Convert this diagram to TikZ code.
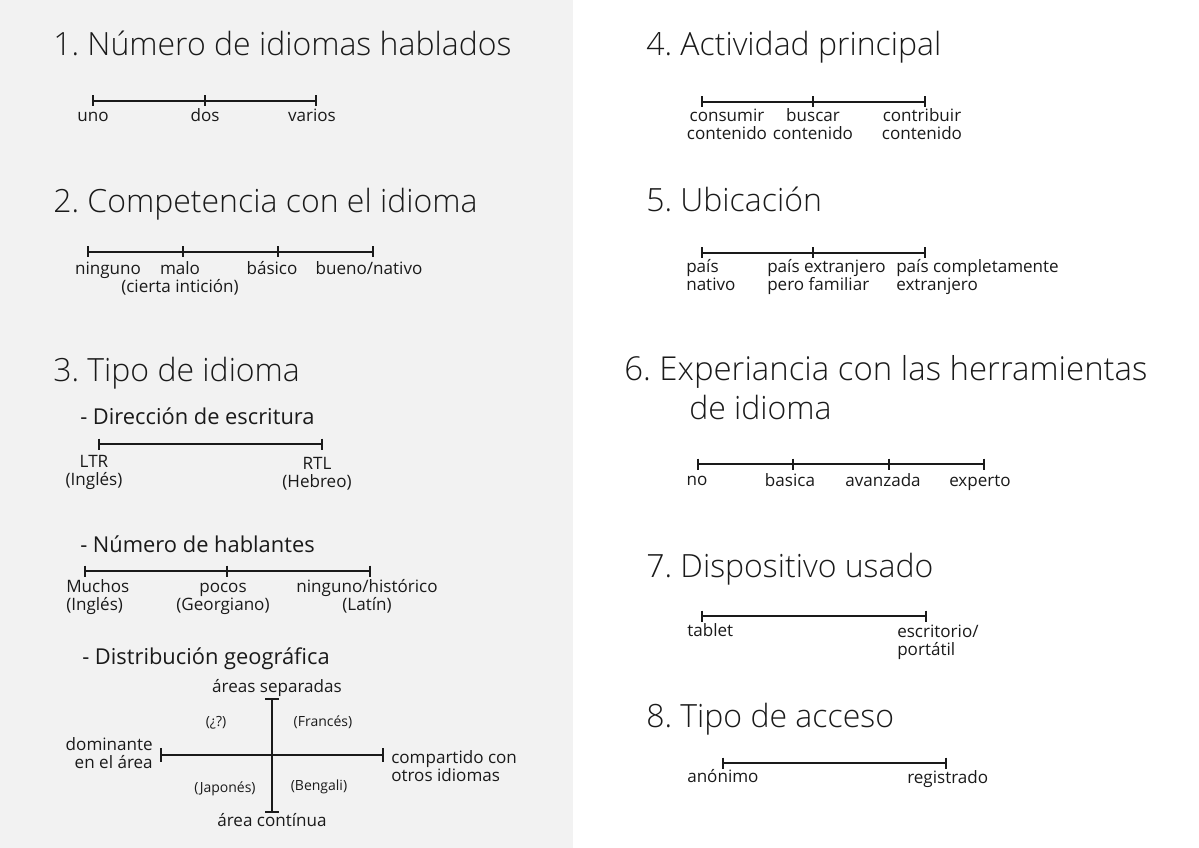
\documentclass[tikz,border=0pt]{standalone}
\usepackage{fontspec}
\setmainfont{Open Sans}
\IfFontExistsTF{Open Sans Light}{\newfontfamily\headfont{Open Sans Light}}{\newfontfamily\headfont{Open Sans}}
\frenchspacing
\definecolor{panel}{HTML}{F2F2F2}
\definecolor{ink}{HTML}{1A1A1A}
\tikzset{
  head/.style={anchor=base west, inner sep=0pt, text=ink, font=\headfont\fontsize{24}{34}\selectfont},
  subhead/.style={anchor=base west, inner sep=0pt, text=ink, font=\fontsize{16.4}{20}\selectfont},
  lbl/.style={anchor=base, inner sep=0pt, text=ink, align=center, font=\fontsize{12.8}{13.5}\selectfont},
  lbll/.style={lbl, anchor=base west, align=left},
  note/.style={lbl, font=\fontsize{10.5}{12}\selectfont},
  axis/.style={draw=ink, line width=1.1pt},
}
\begin{document}
\begin{tikzpicture}[x=0.75pt,y=-0.75pt]
        \useasboundingbox (0,0) rectangle (1199,848);
        \fill[white] (0,0) rectangle (1199,848);
        \fill[panel] (0,0) rectangle (573,848);
        % 1
        \node[head] (h1) at (53,56) {1. Número de idiomas hablados};
        \coordinate (a1) at (93,101); \coordinate (b1) at (205,101); \coordinate (c1) at (316,101);
        \draw[axis] (a1) -- (c1);
        \foreach \p in {a1,b1,c1} \draw[axis] (\p) ++(0,-5.5) -- ++(0,11);
        \node[lbl] (uno) at (93,122) {uno};
        \node[lbl] (dos) at (205,122) {dos};
        \node[lbl] (varios) at (312,122) {varios};
        % 2
        \node[head] (h2) at (53,213) {2. Competencia con el idioma};
        \coordinate (a2) at (88,252); \coordinate (b2) at (183,252); \coordinate (c2) at (278,252); \coordinate (d2) at (373,252);
        \draw[axis] (a2) -- (d2);
        \foreach \p in {a2,b2,c2,d2} \draw[axis] (\p) ++(0,-5.5) -- ++(0,11);
        \node[lbl] (ninguno) at (108,275) {ninguno};
        \node[lbl] (malo) at (180,293) {malo\\(cierta intición)};
        \node[lbl] (basico) at (272,275) {básico};
        \node[lbl] (bueno) at (369,275) {bueno/nativo};
        % 3
        \node[head] (h3) at (53,382) {3. Tipo de idioma};
        \node[subhead] (s3a) at (80,425) {- Dirección de escritura};
        \coordinate (a3) at (99,444); \coordinate (b3) at (322,444);
        \draw[axis] (a3) -- (b3);
        \foreach \p in {a3,b3} \draw[axis] (\p) ++(0,-5.5) -- ++(0,11);
        \node[lbl] (ltr) at (94,485) {LTR\\(Inglés)};
        \node[lbl] (rtl) at (317,487) {RTL\\(Hebreo)};
        \node[subhead] (s3b) at (80,552) {- Número de hablantes};
        \coordinate (a4) at (85,571); \coordinate (b4) at (227,571); \coordinate (c4) at (370,571);
        \draw[axis] (a4) -- (c4);
        \foreach \p in {a4,b4,c4} \draw[axis] (\p) ++(0,-5.5) -- ++(0,11);
        \node[lbll] (muchos) at (66,610) {Muchos\\(Inglés)};
        \node[lbl] (pocos) at (223,610) {pocos\\(Georgiano)};
        \node[lbl] (historico) at (367,610) {ninguno/histórico\\(Latín)};
        \node[subhead] (s3c) at (82,664) {- Distribución geográfica};
        \coordinate (top) at (272,699); \coordinate (bot) at (272,812);
        \coordinate (lft) at (161,755); \coordinate (rgt) at (383,755);
        \draw[axis] (top) -- (bot);
        \draw[axis] (lft) -- (rgt);
        \foreach \p in {top,bot} \draw[axis] (\p) ++(-7,0) -- ++(14,0);
        \foreach \p in {lft,rgt} \draw[axis] (\p) ++(0,-7) -- ++(0,14);
        \node[lbl] (separadas) at (277,692) {áreas separadas};
        \node[lbl] (continua) at (272,826) {área contínua};
        \node[lbl, anchor=base east, align=right] (dominante) at (153,768) {dominante\\en el área};
        \node[lbll] (compartido) at (391,781) {compartido con\\otros idiomas};
        \node[note] (q1) at (216,726) {(¿?)};
        \node[note] (q2) at (323,726) {(Francés)};
        \node[note] (q3) at (225,792) {(Japonés)};
        \node[note] (q4) at (319,790) {(Bengali)};
        % 4
        \node[head] (h4) at (646,56) {4. Actividad principal};
        \coordinate (a5) at (702,102); \coordinate (b5) at (813,102); \coordinate (c5) at (925,102);
        \draw[axis] (a5) -- (c5);
        \foreach \p in {a5,b5,c5} \draw[axis] (\p) ++(0,-5.5) -- ++(0,11);
        \node[lbl] (consumir) at (727,140) {consumir\\contenido};
        \node[lbl] (buscar) at (813,140) {buscar\\contenido};
        \node[lbl] (contribuir) at (922,140) {contribuir\\contenido};
        % 5
        \node[head] (h5) at (646,212) {5. Ubicación};
        \coordinate (a6) at (702,253); \coordinate (b6) at (813,253); \coordinate (c6) at (925,253);
        \draw[axis] (a6) -- (c6);
        \foreach \p in {a6,b6,c6} \draw[axis] (\p) ++(0,-5.5) -- ++(0,11);
        \node[lbll] (nativo) at (686,291) {país\\nativo};
        \node[lbll] (familiar) at (767,291) {país extranjero\\pero familiar};
        \node[lbll] (extranjero) at (896,291) {país completamente\\extranjero};
        % 6
        \node[head, font=\headfont\fontsize{24.7}{34}\selectfont] (h6) at (624,381) {6. Experiancia con las herramientas};
        \node[head] (h6b) at (689,420) {de idioma};
        \coordinate (a7) at (698,464); \coordinate (b7) at (793,464); \coordinate (c7) at (889,464); \coordinate (d7) at (984,464);
        \draw[axis] (a7) -- (d7);
        \foreach \p in {a7,b7,c7,d7} \draw[axis] (\p) ++(0,-5.5) -- ++(0,11);
        \node[lbl] (no) at (697,485) {no};
        \node[lbl] (basica) at (790,486) {basica};
        \node[lbl] (avanzada) at (883,486) {avanzada};
        \node[lbl] (experto) at (980,486) {experto};
        % 7
        \node[head] (h7) at (646,577) {7. Dispositivo usado};
        \coordinate (a8) at (702,616); \coordinate (b8) at (926,616);
        \draw[axis] (a8) -- (b8);
        \foreach \p in {a8,b8} \draw[axis] (\p) ++(0,-5.5) -- ++(0,11);
        \node[lbll] (tablet) at (687,636) {tablet};
        \node[lbll] (escritorio) at (897,655) {escritorio/\\portátil};
        % 8
        \node[head] (h8) at (646,727) {8. Tipo de acceso};
        \coordinate (a9) at (723,763); \coordinate (b9) at (946,763);
        \draw[axis] (a9) -- (b9);
        \foreach \p in {a9,b9} \draw[axis] (\p) ++(0,-5.5) -- ++(0,11);
        \node[lbll] (anonimo) at (687,782) {anónimo};
        \node[lbll] (registrado) at (907,783) {registrado};
\end{tikzpicture}
\end{document}
